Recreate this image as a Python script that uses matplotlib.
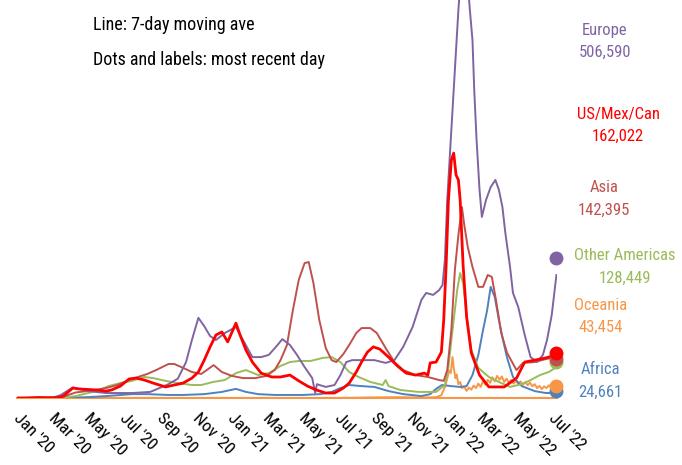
import matplotlib
matplotlib.use('Agg')
import matplotlib.pyplot as plt
import matplotlib.transforms as mtransforms
import pandas as pd

# 字体：窄体优先
plt.rcParams['font.family'] = ['Roboto Condensed', 'DejaVu Sans']

# ---------- 数据：7日平均新增（千例） ----------
europe_dates = ['2020-01-01', '2020-03-01', '2020-03-15', '2020-04-05', '2020-05-01', '2020-06-01',
                '2020-07-15', '2020-08-15', '2020-09-15', '2020-10-01', '2020-10-15', '2020-10-25',
                '2020-11-05', '2020-11-15', '2020-11-25', '2020-12-05', '2020-12-20', '2021-01-08',
                '2021-01-20', '2021-02-05', '2021-02-20', '2021-03-05', '2021-03-20', '2021-03-28',
                '2021-04-10', '2021-04-22', '2021-05-05', '2021-05-18', '2021-05-23', '2021-05-26',
                '2021-06-10', '2021-06-25', '2021-07-05', '2021-07-15', '2021-07-25', '2021-08-15',
                '2021-09-01', '2021-09-20', '2021-10-05', '2021-10-20', '2021-11-05', '2021-11-20',
                '2021-11-28', '2021-12-10', '2021-12-20', '2021-12-26', '2021-12-30', '2022-01-03',
                '2022-01-07', '2022-01-12', '2022-01-17', '2022-01-22', '2022-01-27', '2022-02-01',
                '2022-02-07', '2022-02-11', '2022-02-15', '2022-02-18', '2022-02-22', '2022-02-27',
                '2022-03-03', '2022-03-10', '2022-03-18', '2022-03-26', '2022-04-01', '2022-04-07',
                '2022-04-12', '2022-04-20', '2022-04-25', '2022-05-04', '2022-05-15', '2022-05-25',
                '2022-06-05', '2022-06-15', '2022-06-22', '2022-06-30', '2022-07-08']
europe_vals = [0, 1, 10, 38, 25, 18,
               18, 22, 50, 70, 130, 210,
               290, 260, 224, 210, 235, 257,
               210, 148, 148, 156, 192, 213,
               192, 156, 112, 72, 18, 50,
               40, 47, 83, 130, 137, 137,
               137, 127, 137, 185, 257, 355,
               380, 373, 390, 409, 500, 716,
               861, 1042, 1223, 1404, 1550, 1600,
               1500, 1393, 1295, 1114, 933, 753,
               655, 716, 763, 789, 753, 691,
               597, 474, 380, 329, 228, 148,
               130, 156, 210, 300, 445]

usmc_dates = ['2020-01-01', '2020-03-10', '2020-03-20', '2020-04-05', '2020-04-15', '2020-05-15',
              '2020-06-01', '2020-06-10', '2020-06-25', '2020-07-10', '2020-07-22', '2020-08-05',
              '2020-08-20', '2020-09-10', '2020-09-25', '2020-10-10', '2020-10-25', '2020-11-05',
              '2020-11-15', '2020-11-25', '2020-12-05', '2020-12-15', '2020-12-25', '2021-01-08',
              '2021-01-15', '2021-01-25', '2021-02-05', '2021-02-20', '2021-03-10', '2021-03-25',
              '2021-04-10', '2021-04-25', '2021-05-10', '2021-05-25', '2021-06-10', '2021-06-25',
              '2021-07-10', '2021-07-20', '2021-08-01', '2021-08-10', '2021-08-20', '2021-08-30',
              '2021-09-10', '2021-09-25', '2021-10-10', '2021-10-25', '2021-11-10', '2021-11-25',
              '2021-12-01', '2021-12-05', '2021-12-15', '2021-12-24', '2021-12-28', '2022-01-01',
              '2022-01-05', '2022-01-10', '2022-01-14', '2022-01-18', '2022-01-22', '2022-01-25',
              '2022-01-30', '2022-02-05', '2022-02-13', '2022-02-27', '2022-03-15', '2022-04-10',
              '2022-05-01', '2022-05-15', '2022-06-01', '2022-06-20', '2022-07-08']
usmc_vals = [0, 1, 7, 36, 33, 29,
             25, 29, 43, 69, 72, 65,
             54, 40, 47, 54, 72, 94,
             137, 185, 228, 239, 203, 271,
             228, 174, 130, 90, 76, 76,
             83, 62, 43, 29, 18, 18,
             36, 54, 94, 130, 166, 185,
             177, 148, 116, 90, 83, 90,
             83, 127, 130, 166, 282, 474,
             716, 861, 886, 807, 789, 716,
             481, 293, 163, 83, 40, 40,
             72, 130, 137, 145, 156]

asia_dates = ['2020-01-01', '2020-01-20', '2020-02-08', '2020-02-25', '2020-03-20', '2020-04-10',
              '2020-05-10', '2020-06-01', '2020-06-20', '2020-07-10', '2020-07-25', '2020-08-10',
              '2020-08-25', '2020-09-15', '2020-09-25', '2020-10-10', '2020-10-25', '2020-11-10',
              '2020-12-01', '2020-12-15', '2021-01-01', '2021-01-20', '2021-02-10', '2021-03-01',
              '2021-03-15', '2021-03-25', '2021-04-05', '2021-04-15', '2021-04-25', '2021-05-05',
              '2021-05-12', '2021-05-20', '2021-05-30', '2021-06-10', '2021-06-20', '2021-06-28',
              '2021-07-10', '2021-07-20', '2021-08-01', '2021-08-10', '2021-08-25', '2021-09-05',
              '2021-09-20', '2021-10-05', '2021-10-20', '2021-11-10', '2021-12-01', '2021-12-20',
              '2021-12-28', '2022-01-03', '2022-01-10', '2022-01-16', '2022-01-22', '2022-01-28',
              '2022-02-01', '2022-02-07', '2022-02-15', '2022-02-25', '2022-03-05', '2022-03-13',
              '2022-03-20', '2022-03-27', '2022-04-05', '2022-04-15', '2022-05-01', '2022-05-12',
              '2022-06-01', '2022-06-20', '2022-07-08']
asia_vals = [0, 0.5, 4, 1, 5, 20,
             28, 36, 47, 65, 76, 87,
             101, 123, 123, 109, 94, 87,
             119, 94, 80, 72, 72, 80,
             101, 137, 192, 318, 427, 488,
             492, 416, 282, 181, 137, 130,
             159, 192, 235, 253, 253, 235,
             181, 130, 101, 83, 76, 65,
             62, 101, 246, 463, 590, 691,
             626, 546, 474, 402, 402, 445,
             438, 355, 235, 163, 101, 127,
             130, 141, 148]

other_am_dates = ['2020-01-01', '2020-03-20', '2020-04-10', '2020-05-01', '2020-05-20', '2020-06-05',
                  '2020-06-25', '2020-07-15', '2020-08-05', '2020-08-20', '2020-09-10', '2020-10-01',
                  '2020-10-25', '2020-11-10', '2020-11-30', '2020-12-20', '2021-01-08', '2021-01-25',
                  '2021-02-15', '2021-03-05', '2021-03-25', '2021-04-10', '2021-04-25', '2021-05-15',
                  '2021-06-05', '2021-06-20', '2021-07-05', '2021-07-20', '2021-08-05', '2021-08-25',
                  '2021-09-15', '2021-09-20', '2021-09-25', '2021-10-15', '2021-11-15', '2021-12-15',
                  '2021-12-30', '2022-01-05', '2022-01-12', '2022-01-20', '2022-01-25', '2022-01-30',
                  '2022-02-06', '2022-02-13', '2022-02-25', '2022-03-15', '2022-04-01', '2022-04-20',
                  '2022-05-10', '2022-05-25', '2022-06-10', '2022-06-25', '2022-07-08']
other_am_vals = [0, 1, 7, 18, 29, 43,
                 54, 62, 76, 72, 62, 54,
                 47, 47, 58, 65, 90, 101,
                 83, 90, 116, 130, 134, 134,
                 145, 148, 130, 94, 76, 58,
                 47, 65, 43, 29, 22, 22,
                 47, 112, 246, 391, 452, 416,
                 282, 174, 109, 76, 58, 40,
                 50, 65, 83, 94, 112]

oceania_dates = ['2020-01-01', '2020-07-15', '2020-08-10', '2020-09-01', '2021-07-01', '2021-09-10',
                 '2021-10-15', '2021-11-20', '2021-12-15', '2021-12-24', '2021-12-30', '2022-01-03',
                 '2022-01-06', '2022-01-09', '2022-01-12', '2022-01-14', '2022-01-17', '2022-01-19',
                 '2022-01-22', '2022-01-25', '2022-01-28', '2022-02-01', '2022-02-05', '2022-02-09',
                 '2022-02-13', '2022-02-17', '2022-02-21', '2022-02-25', '2022-03-01', '2022-03-05',
                 '2022-03-09', '2022-03-13', '2022-03-17', '2022-03-21', '2022-03-25', '2022-03-29',
                 '2022-04-02', '2022-04-06', '2022-04-10', '2022-04-14', '2022-04-18', '2022-04-22',
                 '2022-04-26', '2022-04-30', '2022-05-04', '2022-05-08', '2022-05-12', '2022-05-16',
                 '2022-05-20', '2022-05-24', '2022-05-28', '2022-06-01', '2022-06-05', '2022-06-09',
                 '2022-06-13', '2022-06-17', '2022-06-21', '2022-06-25', '2022-06-29', '2022-07-03',
                 '2022-07-08']
oceania_vals = [0, 0.3, 0.6, 0.2, 0.2, 2.5,
                3, 1.5, 3, 10, 40, 70,
                100, 90, 148, 110, 72, 85,
                50, 58, 36, 40, 26, 38,
                30, 45, 36, 52, 40, 62,
                48, 66, 55, 75, 60, 80,
                66, 78, 58, 70, 55, 65,
                52, 62, 50, 60, 48, 58,
                46, 56, 42, 50, 36, 44,
                32, 42, 36, 46, 40, 52,
                50]

africa_dates = ['2020-01-01', '2020-03-20', '2020-05-01', '2020-06-01', '2020-07-15', '2020-08-10',
                '2020-09-15', '2020-10-10', '2020-11-15', '2020-12-15', '2021-01-08', '2021-01-25',
                '2021-02-15', '2021-03-15', '2021-05-01', '2021-06-01', '2021-06-20', '2021-07-05',
                '2021-07-20', '2021-08-10', '2021-09-01', '2021-09-25', '2021-10-20', '2021-11-20',
                '2021-12-05', '2021-12-15', '2021-12-25', '2022-01-10', '2022-01-25', '2022-02-05',
                '2022-02-15', '2022-02-25', '2022-03-05', '2022-03-12', '2022-03-18', '2022-03-25',
                '2022-04-01', '2022-04-08', '2022-04-15', '2022-04-25', '2022-05-10', '2022-06-01',
                '2022-06-20', '2022-07-08']
africa_vals = [0, 0.5, 3, 7, 14, 14,
               11, 11, 14, 22, 33, 22,
               14, 11, 11, 14, 22, 36,
               47, 43, 40, 25, 14, 7,
               14, 33, 47, 43, 40, 43,
               83, 156, 246, 318, 402, 365,
               282, 210, 145, 76, 43, 25,
               18, 18]

# 最近一天（圆点与标签）
region_names = ['Europe', 'US/Mex/Can', 'Asia', 'Other Americas', 'Oceania', 'Africa']
latest_vals = [506590, 162022, 142395, 128449, 43454, 24661]
last_day = '2022-07-08'

# 坐标轴刻度：每两个月
tick_months = pd.date_range('2020-01-01', '2022-07-01', freq='2MS')

# ---------- 绘图 ----------
colors = ['#8064A2', '#FF0000', '#C0504D', '#9BBB59', '#F79646', '#4F81BD']
series = [(europe_dates, europe_vals), (usmc_dates, usmc_vals), (asia_dates, asia_vals),
          (other_am_dates, other_am_vals), (oceania_dates, oceania_vals), (africa_dates, africa_vals)]

fig = plt.figure(figsize=(6.82, 4.65), dpi=100)
ax = fig.add_axes([17 / 682, 67 / 465, 540 / 682, 398 / 465])

# 画线顺序：红线在最上面
draw_order = [4, 5, 3, 2, 0, 1]
for i in draw_order:
    d, v = series[i]
    ax.plot(pd.to_datetime(d), v, color=colors[i], lw=2.0 if i == 1 else 1.4, zorder=2 + draw_order.index(i))

# 最近一天的圆点
for i in [5, 4, 3, 2, 1, 0]:
    ax.plot(pd.to_datetime(last_day), latest_vals[i] / 1000, 'o', ms=9, color=colors[i],
            clip_on=False, zorder=10)

ax.set_xlim(pd.Timestamp('2020-01-01'), pd.Timestamp('2022-07-09'))
ax.set_ylim(0, 1440)

ax.set_xticks(tick_months)
ax.set_xticklabels([d.strftime("%b '%y") for d in tick_months], fontsize=12.5, color='black')
ax.tick_params(axis='x', length=0, pad=9)
shift = mtransforms.ScaledTranslation(4 / 100, 0, fig.dpi_scale_trans)  # 标签右移几个像素
for lab in ax.get_xticklabels():
    lab.set_rotation(-45)
    lab.set_ha('left')
    lab.set_va('top')
    lab.set_rotation_mode('anchor')
    lab.set_transform(lab.get_transform() + shift)
ax.set_yticks([])

for s in ['top', 'right', 'left']:
    ax.spines[s].set_visible(False)
ax.spines['bottom'].set_color('#F79646')  # 底轴线为橙色
ax.spines['bottom'].set_linewidth(1.5)

# 右侧标签（名称 + 最近一天数值）
label_pos = [(605, 30), (618, 114), (604, 188), (625, 256), (601, 305), (600, 370)]
for i, (px, py) in enumerate(label_pos):
    fig.text(px / 682, 1 - py / 465, region_names[i], color=colors[i], fontsize=12,
             ha='center', va='center')
    fig.text(px / 682, 1 - (py + 22) / 465, f'{latest_vals[i]:,}', color=colors[i], fontsize=12,
             ha='center', va='center')

# 左上角说明文字
fig.text(93 / 682, 1 - 25 / 465, 'Line: 7-day moving ave', fontsize=13, color='black', va='center')
fig.text(93 / 682, 1 - 60 / 465, 'Dots and labels: most recent day', fontsize=13, color='black', va='center')

fig.savefig('out.png', dpi=100)
